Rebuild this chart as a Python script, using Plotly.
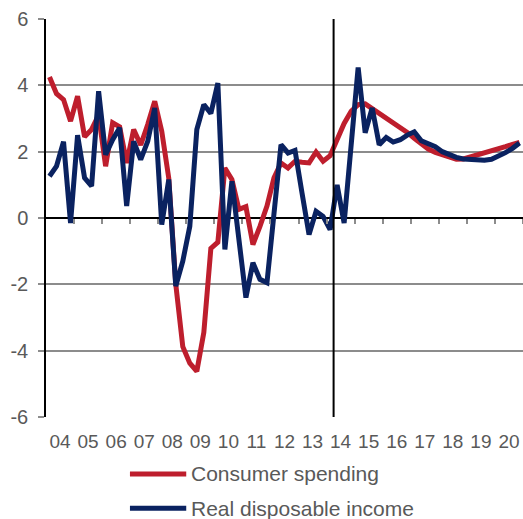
import plotly.graph_objects as go

years = list(range(2004, 2021))
year_labels = [f"{y % 100:02d}" for y in years]
quarters = [f"{y}Q{q}" for y in years for q in range(1, 5)]
y_ticks = [-6, -4, -2, 0, 2, 4, 6]
y_tick_labels = ["-6", "-4", "-2", "0", "2", "4", "6"]

consumer_spending = [
    4.25, 3.75, 3.57, 2.92, 3.67, 2.45, 2.67, 3.10,
    1.56, 2.87, 2.75, 1.66, 2.67, 2.20, 2.82, 3.52,
    2.62, 1.20, -2.00, -3.88, -4.38, -4.62, -3.45, -0.92,
    -0.73, 1.51, 1.16, 0.26, 0.34, -0.80, -0.25, 0.36,
    1.21, 1.66, 1.51, 1.71, 1.68, 1.66, 1.99, 1.71,
    1.88, 2.40, 2.85, 3.22, 3.42, 3.44, 3.30, 3.15,
    3.02, 2.90, 2.75, 2.58, 2.40, 2.22, 2.08, 1.98,
    1.90, 1.82, 1.77, 1.78, 1.84, 1.90, 1.95, 2.00,
    2.08, 2.15, 2.22, 2.28,
]
real_disposable_income = [
    1.26, 1.56, 2.30, -0.15, 2.50, 1.21, 0.96, 3.82,
    1.91, 2.36, 2.72, 0.36, 2.31, 1.76, 2.31, 3.32,
    -0.20, 1.16, -2.05, -1.30, -0.25, 2.67, 3.42, 3.15,
    4.07, -0.95, 1.11, -0.60, -2.40, -1.35, -1.85, -1.95,
    0.10, 2.21, 1.96, 2.04, 0.75, -0.50, 0.20, 0.05,
    -0.35, 1.00, -0.15, 2.11, 4.54, 2.57, 3.32, 2.21,
    2.43, 2.29, 2.36, 2.50, 2.60, 2.33, 2.24, 2.15,
    2.00, 1.90, 1.83, 1.78, 1.76, 1.74, 1.74, 1.77,
    1.86, 1.97, 2.10, 2.26,
]
series_names = ["Consumer spending", "Real disposable income"]
forecast_start = "2014Q2"

RED = "#BE1E2D"
BLUE = "#0A2260"
GREY = "#595959"
GRID = "#8c8c8c"
FONT = "Liberation Sans, Arial, sans-serif"


def qpos(label, mid=True):
    y, q = int(label[:4]), int(label[-1])
    return y + (q - 1 + (0.5 if mid else 0)) / 4


xs = [qpos(q) for q in quarters]

fig = go.Figure()
for name, vals, col in [(series_names[0], consumer_spending, RED),
                        (series_names[1], real_disposable_income, BLUE)]:
    fig.add_trace(go.Scatter(x=xs, y=vals, mode="lines", name=name,
                             line=dict(color=col, width=5), showlegend=False))

x0, x1 = years[0], years[-1] + 1

fig.update_layout(
    width=523, height=519,
    margin=dict(l=46, r=0, t=19, b=102),
    paper_bgcolor="white", plot_bgcolor="white",
    font=dict(family=FONT, color=GREY),
    xaxis=dict(range=[x0, x1], tickvals=[y + 0.5 for y in years],
               ticktext=year_labels, ticks="", showgrid=False, showline=False,
               zeroline=False, tickfont=dict(size=19, color=GREY),
               ticklabelstandoff=11),
    xaxis2=dict(range=[x0, x1], overlaying="x", anchor="free", position=0.5,
                side="bottom", tickvals=list(range(x0 + 1, x1 + 1)),
                ticks="outside", ticklen=5, tickwidth=1.5, tickcolor=GRID,
                showticklabels=False, showgrid=False, showline=False, zeroline=False),
    yaxis=dict(range=[-6, 6], tickvals=y_ticks, ticktext=y_tick_labels,
               showgrid=True, gridcolor=GRID, gridwidth=1.5,
               zeroline=True, zerolinecolor="black", zerolinewidth=1.5,
               showline=True, linecolor="black", linewidth=1.5,
               ticks="outside", ticklen=6, tickcolor=GRID, tickwidth=1.5,
               tickfont=dict(size=20, color=GREY), ticklabelstandoff=6),
)

# invisible trace to activate xaxis2 (tick marks on the zero line)
fig.add_trace(go.Scatter(x=[x0], y=[0], xaxis="x2", mode="markers",
                         marker=dict(opacity=0), showlegend=False, hoverinfo="skip"))

fig.add_vline(x=qpos(forecast_start, mid=False), line=dict(color="black", width=2))

# legend (manual, below plot)
leg_y = [-0.143, -0.229]
for name, col, yy in zip(series_names, [RED, BLUE], leg_y):
    fig.add_shape(type="line", xref="paper", yref="paper",
                  x0=0.176, x1=0.294, y0=yy, y1=yy,
                  line=dict(color=col, width=5))
    fig.add_annotation(xref="paper", yref="paper", x=0.299, y=yy, text=name,
                       showarrow=False, xanchor="left", yanchor="middle",
                       font=dict(size=21, color=GREY, family=FONT))

fig.write_html("out.html",
               config={"displayModeBar": False},
               post_script="document.body.style.margin='0';"
                           "document.documentElement.style.overflow='hidden';")
